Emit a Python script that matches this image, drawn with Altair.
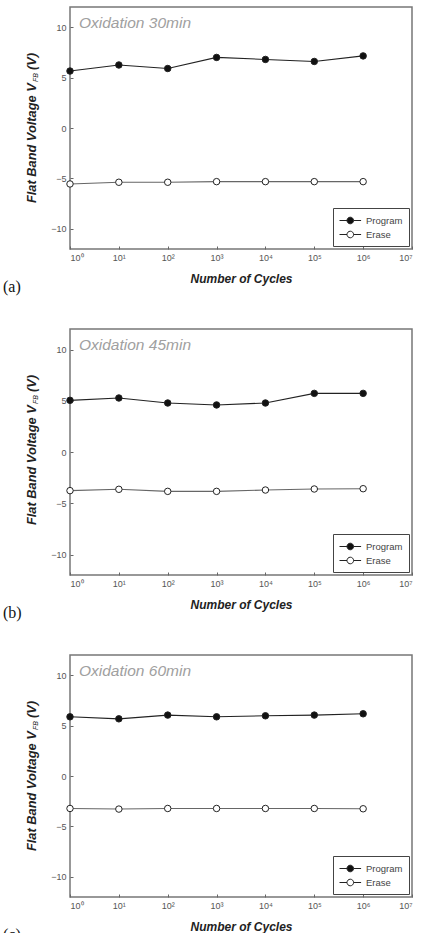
import altair as alt
import pandas as pd

cycles = [1, 10, 100, 1000, 10000, 100000, 1000000]
program_30 = [5.65, 6.25, 5.9, 7.0, 6.8, 6.6, 7.15]
erase_30 = [-5.55, -5.38, -5.38, -5.32, -5.32, -5.32, -5.32]
program_45 = [5.04, 5.27, 4.78, 4.59, 4.78, 5.72, 5.72]
erase_45 = [-3.77, -3.64, -3.84, -3.84, -3.71, -3.61, -3.58]
program_60 = [5.87, 5.67, 6.04, 5.87, 5.97, 6.04, 6.17]
erase_60 = [-3.22, -3.28, -3.22, -3.22, -3.22, -3.22, -3.25]
panel_titles = ["Oxidation 30min", "Oxidation 45min", "Oxidation 60min"]
panel_letters = ["(a)", "(b)", "(c)"]
series_names = ["Program", "Erase"]
line_colors = ["#222", "#666"]
x_ticks = [1, 10, 100, 1000, 10000, 100000, 1000000, 10000000]
y_ticks = [-10, -5, 0, 5, 10]
y_title_main = "Flat Band Voltage V"
y_title_sub = "FB"
y_title_unit = "(V)"

SANS = "Liberation Sans"
# legend glyph: a short line with a circle on it (unit = 6 px at symbolSize 144)
SYM = "M-1,0H0.25M1.35,0H2.6M1.35,0A0.55,0.55 0 1,1 0.25,0A0.55,0.55 0 1,1 1.35,0Z"
SUP = "['\u2070','\u00b9','\u00b2','\u00b3','\u2074','\u2075','\u2076','\u2077']"


def panel(prog, erase, title, letter, h):
    n = len(cycles)
    df = pd.DataFrame({
        "Cycles": cycles + cycles,
        "VFB": prog + erase,
        "Series": [series_names[0]] * n + [series_names[1]] * n,
    })
    base = alt.Chart(df)
    x = alt.X(
        "Cycles:Q",
        scale=alt.Scale(type="log", domain=[1, 1e7], nice=False),
        axis=alt.Axis(
            values=x_ticks,
            labelExpr="'10' + " + SUP + "[round(log(datum.value)/LN10)]",
            title="Number of Cycles",
            offset=-3, tickSize=3, labelPadding=4, titlePadding=11,
        ),
    )
    y = alt.Y(
        "VFB:Q",
        scale=alt.Scale(domain=[-12, 12], nice=False, zero=False),
        axis=alt.Axis(values=y_ticks, title=None, offset=-3, tickSize=3, labelPadding=4),
    )
    line_layers = [
        base.transform_filter(alt.datum.Series == s).mark_line(strokeWidth=1.1, color=c).encode(x=x, y=y)
        for s, c in zip(series_names, line_colors)
    ]
    pts = base.mark_point(filled=True, size=42, stroke="#222", strokeWidth=1, opacity=1).encode(
        x=x, y=y,
        fill=alt.Fill(
            "Series:N",
            scale=alt.Scale(domain=series_names, range=["#111", "white"]),
            legend=alt.Legend(
                title=None, orient="bottom-right", offset=3,
                fillColor="white", strokeColor="#444", padding=6,
                labelFont=SANS, labelFontSize=9.5, labelColor="#444",
                symbolType=SYM, symbolSize=144, symbolStrokeColor="#222",
                symbolStrokeWidth=1, rowPadding=2, labelOffset=14,
            ),
        ),
    )
    ttl = alt.Chart(pd.DataFrame({"t": [title]})).mark_text(
        font=SANS, fontSize=15.5, fontStyle="italic", color="#a0a0a0",
        align="left", baseline="middle",
    ).encode(x=alt.value(9), y=alt.value(16), text="t:N")
    let = alt.Chart(pd.DataFrame({"t": [letter]})).mark_text(
        font="Liberation Serif", fontSize=16, color="#111",
        align="left", baseline="middle",
    ).encode(x=alt.value(-67), y=alt.value(h + 38), text="t:N")
    yt1 = alt.Chart(pd.DataFrame({"t": [y_title_main]})).mark_text(
        font=SANS, fontSize=12.8, fontStyle="italic", fontWeight="bold", color="#222",
        align="left", baseline="middle", angle=270,
    ).encode(x=alt.value(-38), y=alt.value(196), text="t:N")
    yt2 = alt.Chart(pd.DataFrame({"t": [y_title_sub]})).mark_text(
        font=SANS, fontSize=7, fontStyle="italic", color="#222",
        align="left", baseline="middle", angle=270,
    ).encode(x=alt.value(-34), y=alt.value(75), text="t:N")
    yt3 = alt.Chart(pd.DataFrame({"t": [y_title_unit]})).mark_text(
        font=SANS, fontSize=12.8, fontStyle="italic", fontWeight="bold", color="#222",
        align="left", baseline="middle", angle=270,
    ).encode(x=alt.value(-38), y=alt.value(63), text="t:N")
    return alt.layer(*line_layers, pts, ttl, let, yt1, yt2, yt3).properties(width=342, height=h)


p1 = panel(program_30, erase_30, panel_titles[0], panel_letters[0], 242)
p2 = panel(program_45, erase_45, panel_titles[1], panel_letters[1], 246)
p3 = panel(program_60, erase_60, panel_titles[2], panel_letters[2], 242)

chart = alt.vconcat(p1, p2, p3, spacing=32).resolve_scale(
    fill="independent"
).resolve_legend(fill="independent").properties(
    padding={"left": 2, "top": 6, "right": 5, "bottom": 5},
    background="white",
).configure_axis(
    labelFont=SANS, labelFontSize=9, labelColor="#555", tickColor="#666",
    domain=False, grid=False,
    titleFont=SANS, titleFontSize=12, titleFontStyle="italic", titleFontWeight="bold",
    titleColor="#222",
).configure_view(stroke="#777", strokeWidth=1.5)

chart.save("out.html", embed_options={"renderer": "svg", "actions": False})
